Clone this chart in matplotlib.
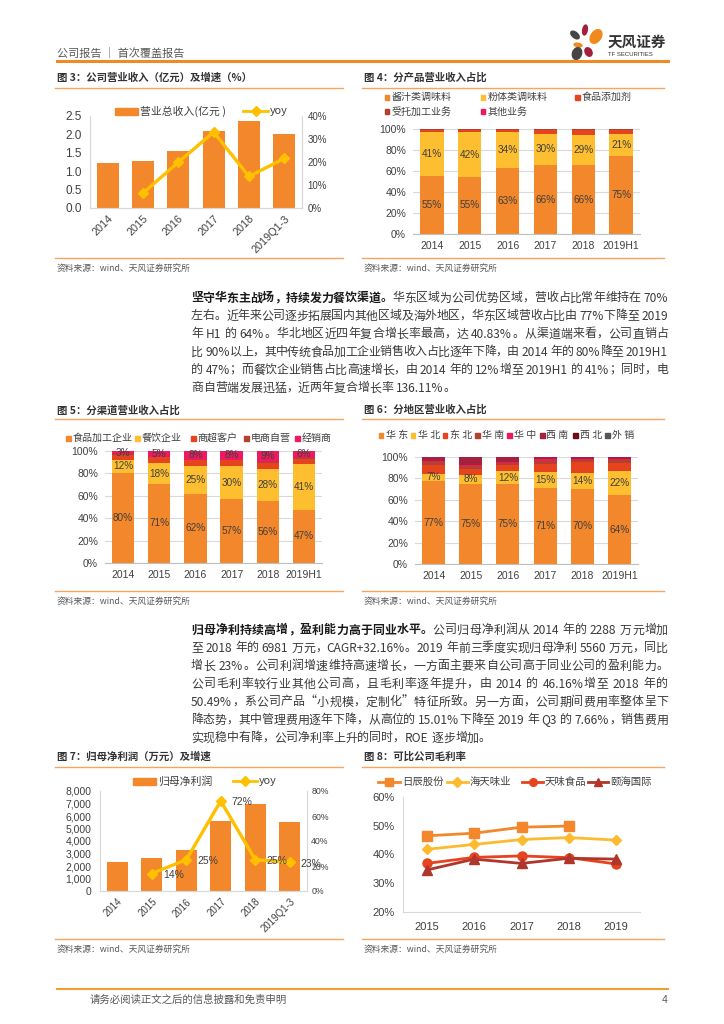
import matplotlib
matplotlib.use('Agg')
import matplotlib.pyplot as plt
from matplotlib.lines import Line2D
from matplotlib.patches import Rectangle, Ellipse
import numpy as np

plt.rcParams['font.family'] = ['Liberation Sans', 'Noto Sans CJK SC', 'DejaVu Sans']
CJK = ['Noto Sans CJK SC', 'DejaVu Sans']

W, H = 724, 1024

# --- data ---
years_a = ['2014', '2015', '2016', '2017', '2018', '2019Q1-3']
years_b = ['2014', '2015', '2016', '2017', '2018', '2019H1']
years_c = ['2015', '2016', '2017', '2018', '2019']

# fig 3: revenue (100m yuan) and yoy (%)
revenue = [1.22, 1.29, 1.55, 2.08, 2.37, 2.01]
revenue_yoy = [np.nan, 6.5, 19.9, 33.0, 13.7, 21.6]

# fig 4: revenue share by product (%)
prod_names = ['酱汁类调味料', '粉体类调味料', '食品添加剂', '受托加工业务', '其他业务']
prod_sauce = [55.4, 54.6, 62.6, 65.6, 65.6, 74.6]
prod_powder = [41.3, 42.2, 34.3, 30.1, 29.1, 21.0]
prod_additive = [2.5, 2.6, 2.3, 3.6, 4.3, 3.8]
prod_oem = [0.5, 0.4, 0.5, 0.5, 0.8, 0.4]
prod_other = [0.3, 0.2, 0.3, 0.2, 0.2, 0.2]

# fig 5: revenue share by channel (%)
chan_names = ['食品加工企业', '餐饮企业', '商超客户', '电商自营', '经销商']
chan_food = [80.3, 70.8, 61.8, 56.9, 55.8, 47.4]
chan_catering = [11.9, 18.2, 24.8, 29.6, 28.3, 41.2]
chan_retail = [4.6, 5.4, 5.3, 5.2, 5.0, 4.3]
chan_ecom = [0.3, 0.4, 0.3, 0.4, 1.5, 1.2]
chan_dealer = [2.9, 5.2, 7.8, 7.9, 9.4, 5.9]

# fig 6: revenue share by region (%)
reg_names = ['华 东', '华 北', '东 北', '华 南', '华 中', '西 南', '西 北', '外 销']
reg_east = [77.2, 75.1, 74.6, 70.6, 70.4, 64.4]
reg_north = [7.3, 7.9, 12.1, 15.2, 14.2, 22.3]
reg_northeast = [8.4, 6.2, 5.6, 8.0, 10.8, 7.7]
reg_south = [2.5, 2.4, 2.4, 2.2, 1.6, 3.1]
reg_central = [1.0, 0.8, 0.8, 2.0, 0.8, 0.6]
reg_southwest = [3.2, 7.2, 4.1, 1.6, 1.8, 1.5]
reg_northwest = [0.2, 0.2, 0.2, 0.2, 0.2, 0.2]
reg_export = [0.2, 0.2, 0.2, 0.2, 0.2, 0.2]

# fig 7: net profit (10k yuan) and yoy (%)
profit = [2288, 2608, 3260, 5607, 6981, 5560]
profit_yoy = [np.nan, 14, 25, 72, 25, 23]

# fig 8: gross margin of peers (%)
peer_names = ['日辰股份', '海天味业', '天味食品', '颐海国际']
gm_richen = [46.5, 47.4, 49.5, 49.9, np.nan]
gm_haitian = [41.8, 43.5, 45.2, 45.9, 45.0]
gm_tianwei = [36.9, 39.0, 39.5, 38.9, 36.7]
gm_yihai = [34.6, 38.4, 36.9, 38.7, 38.4]

ORANGE = '#F3872B'
YELLOW = '#FDBF2F'
LINE_Y = '#FFC000'
RED = '#E5441F'
DARKRED = '#B5402D'
PINK = '#EC1A5E'
CRIMSON = '#A5223E'
MAROON = '#6A0F16'
GREY = '#555555'
SEP = '#F6A55E'
TXT = '#404040'

fig = plt.figure(figsize=(W / 100, H / 100), dpi=100)


def px_axes(x0, y0, x1, y1):
    return fig.add_axes([x0 / W, 1 - y1 / H, (x1 - x0) / W, (y1 - y0) / H])


def ptext(x, y, s, **kw):
    kw.setdefault('va', 'center')
    return fig.text(x / W, 1 - y / H, s, **kw)


def pline(x0, x1, y, color=SEP, lw=1.0):
    fig.add_artist(Line2D([x0 / W, x1 / W], [1 - y / H, 1 - y / H], color=color, lw=lw,
                          transform=fig.transFigure))


def square_key(x, y, color, label, fs=7.2, size=5):
    fig.add_artist(Rectangle(((x - size / 2) / W, 1 - (y + size / 2) / H), size / W, size / H,
                             color=color, transform=fig.transFigure))
    ptext(x + size / 2 + 2, y, label, fontsize=fs, color=TXT, family=CJK)


def bar_key(x0, x1, y, color, label, fs=7.8):
    fig.add_artist(Rectangle((x0 / W, 1 - (y + 3.5) / H), (x1 - x0) / W, 7 / H,
                             color=color, transform=fig.transFigure))
    ptext(x1 + 2, y, label, fontsize=fs, color=TXT, family=CJK)


def line_key(x0, x1, y, color, marker, label, fs=7.8, ms=5):
    fig.add_artist(Line2D([x0 / W, x1 / W], [1 - y / H] * 2, color=color, lw=2,
                          transform=fig.transFigure))
    fig.add_artist(Line2D([(x0 + x1) / 2 / W], [1 - y / H], color=color, marker=marker, ms=ms,
                          transform=fig.transFigure))
    ptext(x1 + 2, y, label, fontsize=fs, color=TXT, family=CJK)


def panel(x0, x1, title, y_title, y_line, y_src_line, y_src):
    ptext(x0 + 2, y_title, title, fontsize=7.5, weight='bold', color='#333333', family=CJK)
    pline(x0, x1, y_line)
    pline(x0, x1, y_src_line)
    ptext(x0 + 2, y_src, '资料来源：wind、天风证券研究所', fontsize=6.3, color='#595959', family=CJK)


def stacked(ax, series, colors, label_idx, cats):
    x = np.arange(len(cats))
    bottom = np.zeros(len(cats))
    for i, (vals, c) in enumerate(zip(series, colors)):
        vals = np.array(vals, dtype=float)
        ax.bar(x, vals, 0.62, bottom=bottom, color=c, zorder=2)
        if i in label_idx:
            for xi, b, v in zip(x, bottom, vals):
                ax.text(xi, b + v / 2, f'{v:.0f}%', ha='center', va='center',
                        fontsize=7.2, color=TXT, zorder=3)
        bottom += vals
    ax.set_xlim(-0.5, len(cats) - 0.5)
    ax.set_ylim(0, 100)
    ax.set_yticks(range(0, 101, 20))
    ax.set_yticklabels([f'{v}%' for v in range(0, 101, 20)])
    ax.set_xticks(x)
    ax.set_xticklabels(cats)
    ax.yaxis.grid(True, color='#D9D9D9', lw=0.8)
    ax.set_axisbelow(True)
    for s in ['left', 'top', 'right']:
        ax.spines[s].set_visible(False)
    ax.spines['bottom'].set_color('#BFBFBF')
    ax.tick_params(length=0, labelsize=7.5, colors=TXT, pad=5)


# --- header ---
ptext(57, 53, '公司报告 ｜ 首次覆盖报告', fontsize=8, color='#595959', family=CJK)
pline(57, 668, 61, color='#F08A24', lw=2.2)
lax = px_axes(566, 22, 608, 62)
lax.set_xlim(566, 608)
lax.set_ylim(62, 22)
lax.axis('off')
for (cx, cy, w, h, a, c) in [(575, 35, 10, 5.5, 40, '#454545'), (585, 30, 4.5, 10, 10, '#A31F3A'),
                              (596, 36.5, 10, 15, 35, '#F08A1E'), (578, 45, 8, 3.5, 10, '#F08A1E'),
                              (588.5, 52, 6.5, 9, -30, '#A31F3A'), (577, 53.5, 9, 12, 20, '#454545')]:
    lax.add_patch(Ellipse((cx, cy), w, h, angle=a, color=c))
ptext(608, 42, '天风证券', fontsize=10.5, weight='bold', color='#333333', family=CJK)
ptext(608, 55, 'TF SECURITIES', fontsize=4.3, color='#333333')

# --- fig 3 ---
panel(55, 343, '图 3：公司营业收入（亿元）及增速（%）', 78, 88, 258, 268)
ax = px_axes(90, 116, 302, 208)
x = np.arange(len(years_a))
ax.bar(x, revenue, 0.62, color=ORANGE, zorder=2)
ax.set_xlim(-0.5, 5.5)
ax.set_ylim(0, 2.5)
ax.set_yticks(np.arange(0, 2.51, 0.5))
ax.set_yticklabels([f'{v:.1f}' for v in np.arange(0, 2.51, 0.5)])
ax.set_xticks(x)
ax.set_xticklabels(years_a, rotation=45, ha='right', va='top', rotation_mode='anchor')
ax.tick_params(length=0, colors=TXT)
ax.tick_params(axis='y', labelsize=8.5, pad=6)
ax.tick_params(axis='x', labelsize=7.8, pad=4)
ax2 = ax.twinx()
ax2.plot(x, revenue_yoy, color=LINE_Y, lw=2.4, marker='D', ms=5, zorder=3)
ax2.set_ylim(0, 40)
ax2.set_yticks(range(0, 41, 10))
ax2.set_yticklabels([f'{v}%' for v in range(0, 41, 10)])
ax2.tick_params(length=0, labelsize=7, colors=TXT, pad=4)
for a in (ax, ax2):
    a.spines['top'].set_visible(False)
    for s in ['left', 'right', 'bottom']:
        a.spines[s].set_color('#D9D9D9')
bar_key(115, 138, 111, ORANGE, '营业总收入(亿元 )')
line_key(243, 268, 111, LINE_Y, 'D', 'yoy')

# --- fig 4 ---
panel(362, 664, '图 4：分产品营业收入占比', 78, 88, 258, 268)
ax = px_axes(413, 129, 640, 234)
stacked(ax, [prod_sauce, prod_powder, prod_additive, prod_oem, prod_other],
        [ORANGE, YELLOW, RED, DARKRED, PINK], [0, 1], years_b)
prod_colors = [ORANGE, YELLOW, RED, DARKRED, PINK]
prod_pos = [(387, 97), (483, 97), (577, 97), (387, 111.5), (483, 111.5)]
for (px_, py_), c, n in zip(prod_pos, prod_colors, prod_names):
    square_key(px_, py_, c, n)

# --- paragraph 1 ---
renderer = fig.canvas.get_renderer()


def para_line(y, segments, justify=True, x0=191, x1=668, fs=8.6):
    tokens = []
    for s, bold in segments:
        buf = ''
        for ch in s:
            if ord(ch) < 128 and ch != ' ':
                buf += ch
            else:
                if buf:
                    tokens.append((buf, bold))
                    buf = ''
                tokens.append((ch, bold))
        if buf:
            tokens.append((buf, bold))
    items = []
    for tok, bold in tokens:
        if tok == ' ':
            items.append((None, fs * 0.25 * 100 / 72))
        else:
            t = fig.text(0, 1 - y / H, tok, fontsize=fs, family=CJK, va='center',
                         weight='bold' if bold else 'normal',
                         color='#1A1A1A' if bold else '#3A3A3A')
            items.append((t, t.get_window_extent(renderer).width))
    total = sum(w for _, w in items)
    gap = (x1 - x0 - total) / (len(items) - 1) if justify else 0
    xx = x0
    for t, w in items:
        if t is not None:
            t.set_x(xx / W)
        xx += w + gap


p1 = [
    [('坚守华东主战场，持续发力餐饮渠道。', True), ('华东区域为公司优势区域，营收占比常年维持在 70%', False)],
    [('左右。近年来公司逐步拓展国内其他区域及海外地区，华东区域营收占比由 77%下降至 2019', False)],
    [('年 H1 的 64%。华北地区近四年复合增长率最高，达 40.83%。从渠道端来看，公司直销占', False)],
    [('比 90%以上，其中传统食品加工企业销售收入占比逐年下降，由 2014 年的 80%降至 2019H1', False)],
    [('的 47%；而餐饮企业销售占比高速增长，由 2014 年的 12%增至 2019H1 的 41%；同时，电', False)],
    [('商自营端发展迅猛，近两年复合增长率 136.11%。', False)],
]
for i, segs in enumerate(p1):
    para_line(298 + 18 * i, segs, justify=(i < len(p1) - 1))

p2 = [
    [('归母净利持续高增，盈利能力高于同业水平。', True), ('公司归母净利润从 2014 年的 2288 万元增加', False)],
    [('至 2018 年的 6981 万元，CAGR+32.16%。2019 年前三季度实现归母净利 5560 万元，同比', False)],
    [('增长 23%。公司利润增速维持高速增长，一方面主要来自公司高于同业公司的盈利能力。', False)],
    [('公司毛利率较行业其他公司高，且毛利率逐年提升，由 2014 的 46.16%增至 2018 年的', False)],
    [('50.49%，系公司产品“小规模，定制化”特征所致。另一方面，公司期间费用率整体呈下', False)],
    [('降态势，其中管理费用逐年下降，从高位的 15.01%下降至 2019 年 Q3 的 7.66%，销售费用', False)],
    [('实现稳中有降，公司净利率上升的同时，ROE 逐步增加。', False)],
]
for i, segs in enumerate(p2):
    para_line(630 + 18 * i, segs, justify=(i < len(p2) - 1))

# --- fig 5 ---
panel(55, 343, '图 5：分渠道营业收入占比', 410, 419, 591, 601)
ax = px_axes(105, 451, 322, 563)
stacked(ax, [chan_food, chan_catering, chan_retail, chan_ecom, chan_dealer],
        [ORANGE, YELLOW, RED, DARKRED, PINK], [0, 1, 4], years_b)
chan_colors = [ORANGE, YELLOW, RED, DARKRED, PINK]
chan_x = [68, 137, 193, 246, 297]
for px_, c, n in zip(chan_x, chan_colors, chan_names):
    square_key(px_, 438, c, n)

# --- fig 6 ---
panel(362, 664, '图 6：分地区营业收入占比', 410, 419, 591, 601)
ax = px_axes(415, 457, 638, 564)
stacked(ax, [reg_east, reg_north, reg_northeast, reg_south, reg_central, reg_southwest,
             reg_northwest, reg_export],
        [ORANGE, YELLOW, RED, DARKRED, PINK, CRIMSON, MAROON, GREY], [0, 1], years_b)
reg_colors = [ORANGE, YELLOW, RED, DARKRED, PINK, CRIMSON, MAROON, GREY]
reg_x = [381, 413, 445, 478, 510, 542, 575, 607]
for px_, c, n in zip(reg_x, reg_colors, reg_names):
    square_key(px_, 435, c, n)

# --- fig 7 ---
panel(55, 343, '图 7：归母净利润（万元）及增速', 757, 767, 939, 949)
ax = px_axes(100, 791, 307, 891)
x = np.arange(len(years_a))
ax.bar(x, profit, 0.62, color=ORANGE, zorder=2)
ax.set_xlim(-0.5, 5.5)
ax.set_ylim(0, 8000)
ax.set_yticks(range(0, 8001, 1000))
ax.set_yticklabels([f'{v:,}' for v in range(0, 8001, 1000)])
ax.set_xticks(x)
ax.set_xticklabels(years_a, rotation=45, ha='right', va='top', rotation_mode='anchor')
ax.tick_params(length=0, colors=TXT)
ax.tick_params(axis='y', labelsize=7.5, pad=6)
ax.tick_params(axis='x', labelsize=7, pad=4)
ax2 = ax.twinx()
ax2.plot(x, profit_yoy, color=LINE_Y, lw=2.4, marker='D', ms=5, zorder=3)
for xi, v in zip(x, profit_yoy):
    if not np.isnan(v):
        ax2.annotate(f'{v:.0f}%', (xi, v), xytext=(8, -1), textcoords='offset points',
                     ha='left', va='center', fontsize=7.5, color=TXT)
ax2.set_ylim(0, 80)
ax2.set_yticks(range(0, 81, 20))
ax2.set_yticklabels([f'{v}%' for v in range(0, 81, 20)])
ax2.tick_params(length=0, labelsize=6.3, colors=TXT, pad=3)
for a in (ax, ax2):
    a.spines['top'].set_visible(False)
    for s in ['left', 'right', 'bottom']:
        a.spines[s].set_color('#D9D9D9')
bar_key(133, 156, 781, ORANGE, '归母净利润')
line_key(233, 257, 781, LINE_Y, 'D', 'yoy')

# --- fig 8 ---
panel(362, 664, '图 8：可比公司毛利率', 757, 767, 939, 949)
ax = px_axes(403, 797, 640, 912)
x = np.arange(len(years_c))
peer_series = [gm_richen, gm_haitian, gm_tianwei, gm_yihai]
peer_colors = [ORANGE, '#FDBA2F', RED, '#B0362B']
peer_markers = ['s', 'D', 'o', '^']
peer_ms = [6.5, 5, 6.5, 6.5]
for vals, c, m, ms in zip(peer_series, peer_colors, peer_markers, peer_ms):
    ax.plot(x, vals, color=c, lw=2, marker=m, ms=ms)
ax.set_xlim(-0.5, 4.5)
ax.set_ylim(20, 60)
ax.set_yticks(range(20, 61, 10))
ax.set_yticklabels([f'{v}%' for v in range(20, 61, 10)])
ax.set_xticks(x)
ax.set_xticklabels(years_c)
ax.tick_params(length=0, labelsize=8, colors=TXT)
ax.tick_params(axis='x', pad=7)
ax.tick_params(axis='y', pad=6)
for s in ['top', 'right']:
    ax.spines[s].set_visible(False)
for s in ['left', 'bottom']:
    ax.spines[s].set_color('#D9D9D9')
peer_keys = [(378, 400), (447, 468), (522, 543), (588, 608)]
for (k0, k1), c, m, n in zip(peer_keys, peer_colors, peer_markers, peer_names):
    line_key(k0, k1, 782, c, m, n, fs=7.5, ms=5.5)

# --- footer ---
pline(57, 668, 989, color='#F0A030', lw=1.5)
ptext(90, 1000, '请务必阅读正文之后的信息披露和免责申明', fontsize=7.5, color='#595959', family=CJK)
ptext(662, 1000, '4', fontsize=7.5, color='#595959')

fig.savefig('out.png', dpi=100)
